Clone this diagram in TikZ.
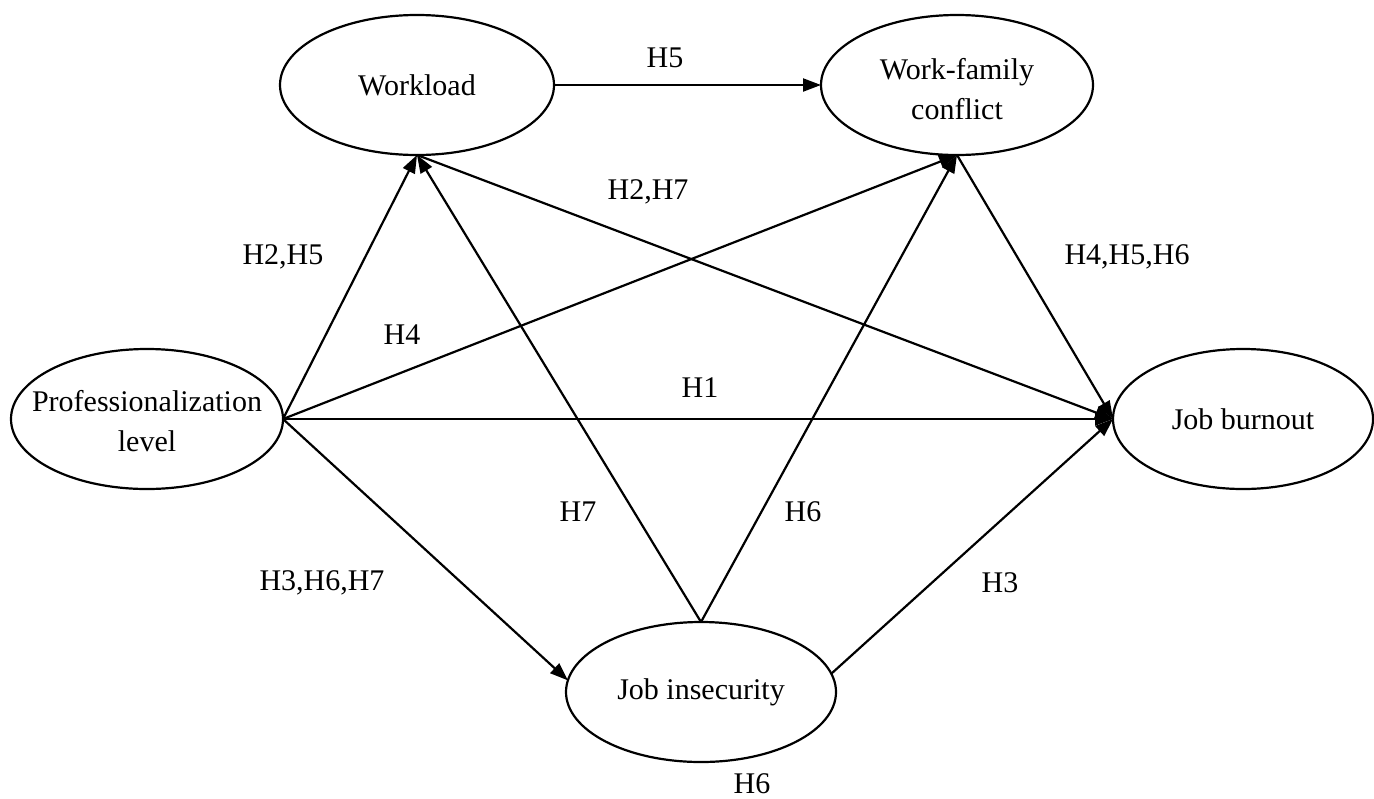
\documentclass[tikz,border=0pt]{standalone}
\usepackage{fontspec}
\setmainfont{Liberation Serif}
\usetikzlibrary{arrows.meta,shapes.geometric}
\begin{document}
\begin{tikzpicture}[x=0.5pt,y=-0.5pt,
  lbl/.style={align=center,inner sep=0pt,font=\fontsize{15}{20}\selectfont},
  var/.style={ellipse,draw,line width=1.1pt,minimum height=70pt,inner sep=0pt,outer sep=0pt},
  arr/.style={line width=1.1pt,-{Triangle[length=9pt,width=6.5pt]}}]
\useasboundingbox (0,0) rectangle (1374,798);
% variables
\node[var,minimum width=137pt,label={[lbl]center:Workload}] (work) at (417,85) {};
\node[var,minimum width=136pt,label={[lbl,yshift=-2pt]center:Work-family\\conflict}] (wfc) at (957,85) {};
\node[var,minimum width=136pt,label={[lbl,yshift=-1pt]center:Professionalization\\level}] (prof) at (147,419) {};
\node[var,minimum width=130pt,label={[lbl]center:Job burnout}] (burn) at (1243,419) {};
\node[var,minimum width=135pt,label={[lbl]center:Job insecurity}] (insec) at (701,692) {};
% paths
\draw[arr] (work.east) -- (wfc.west);
\draw[arr] (prof.east) -- (work.south);
\draw[arr] (prof.east) -- (wfc.south);
\draw[arr] (prof.east) -- (burn.west);
\draw[arr] (prof.east) -- (insec.175);
\draw[arr] (work.south) -- (burn.west);
\draw[arr] (insec.north) -- (work.south);
\draw[arr] (insec.north) -- (wfc.south);
\draw[arr] (wfc.south) -- (burn.west);
\draw[arr] (insec.8) -- (burn.west);
% hypothesis labels
\node[lbl] (h5) at (665,58) {H5};
\node[lbl] (h27) at (648,192) {H2,H7};
\node[lbl] (h25) at (283,257) {H2,H5};
\node[lbl] (h456) at (1127,257) {H4,H5,H6};
\node[lbl] (h4) at (402,335) {H4};
\node[lbl] (h1) at (700,388) {H1};
\node[lbl] (h7) at (578,512) {H7};
\node[lbl] (h6a) at (803,512) {H6};
\node[lbl] (h367) at (322,583) {H3,H6,H7};
\node[lbl] (h3) at (1000,583) {H3};
\node[lbl] (h6b) at (752,784) {H6};
\end{tikzpicture}
\end{document}
